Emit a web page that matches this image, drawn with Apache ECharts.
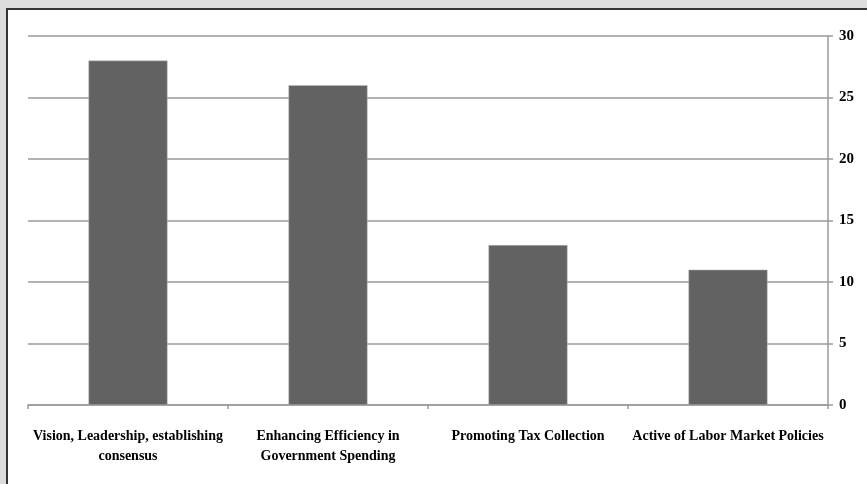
<!DOCTYPE html>
<html><head><meta charset="utf-8">
<script src="https://cdn.jsdelivr.net/npm/echarts@6/dist/echarts.min.js"></script>
<style>html,body{margin:0;padding:0;background:#dcdcdc;}#c{width:867px;height:484px;}</style>
</head><body><div id="c"></div>
<script>
var categories = ["Vision, Leadership, establishing\nconsensus", "Enhancing Efficiency in\nGovernment Spending", "Promoting Tax Collection", "Active of Labor Market Policies"];
var values = [28, 26, 13, 11];
var yTicks = [0, 5, 10, 15, 20, 25, 30];

var chart = echarts.init(document.getElementById('c'), null, {renderer: 'canvas'});
chart.setOption({
  backgroundColor: '#dcdcdc',
  animation: false,
  graphic: [
    {type: 'rect', z: -10, shape: {x: 7, y: 9, width: 880, height: 500}, style: {fill: '#ffffff', stroke: '#333333', lineWidth: 2}}
  ],
  grid: {left: 28, right: 39, top: 36, bottom: 79},
  xAxis: {
    type: 'category', data: categories,
    axisLine: {show: true, lineStyle: {color: '#9a9a9a', width: 1.5}},
    axisTick: {show: true, alignWithLabel: false, length: 4, lineStyle: {color: '#9a9a9a', width: 1.5}},
    axisLabel: {interval: 0, margin: 21, color: '#000', fontFamily: 'Liberation Serif', fontWeight: 'bold', fontSize: 14, lineHeight: 20, letterSpacing: -0.6}
  },
  yAxis: {
    type: 'value', position: 'right', min: 0, max: 30, interval: 5,
    axisLine: {show: true, lineStyle: {color: '#9a9a9a', width: 1.5}},
    axisTick: {show: true, length: 5, lineStyle: {color: '#9a9a9a', width: 1.5}},
    axisLabel: {margin: 11, color: '#000', fontFamily: 'Liberation Serif', fontWeight: 'bold', fontSize: 15,
      formatter: function(v){ return yTicks.indexOf(v) >= 0 ? String(v) : ''; }},
    splitLine: {show: true, lineStyle: {color: '#9a9a9a', width: 1.5}}
  },
  series: [{
    type: 'bar', data: values, barWidth: '39.5%',
    itemStyle: {color: '#626262', borderColor: '#bdbdbd', borderWidth: 0.5}
  }]
});
</script></body></html>
